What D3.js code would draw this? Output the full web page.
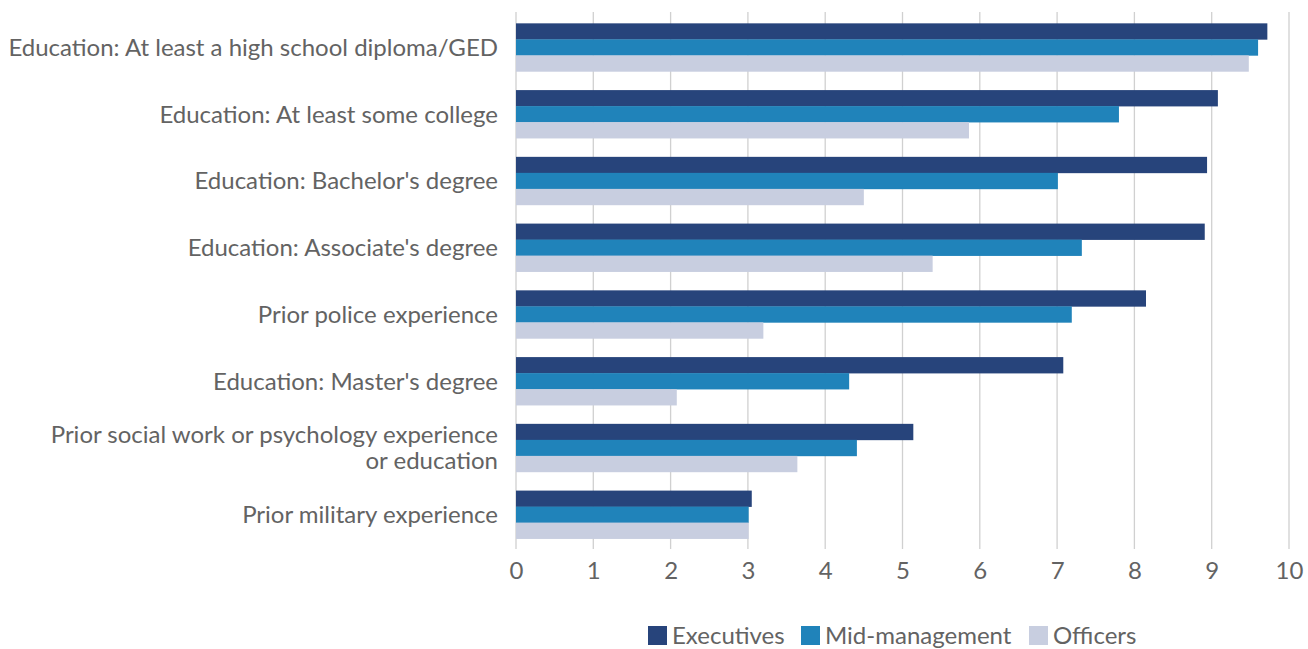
<!DOCTYPE html>
<html>
<head>
<meta charset="utf-8">
<script src="https://cdn.jsdelivr.net/npm/d3@7"></script>
<style>
  body { margin: 0; background: #fff; }
  text { font-family: Lato, "Open Sans", sans-serif; fill: #636363; }
</style>
</head>
<body>
<script>
// categories, top to bottom
var categories = [
  "Education: At least a high school diploma/GED",
  "Education: At least some college",
  "Education: Bachelor's degree",
  "Education: Associate's degree",
  "Prior police experience",
  "Education: Master's degree",
  "Prior social work or psychology experience|or education",
  "Prior military experience"
];
var seriesNames = ["Executives", "Mid-management", "Officers"];
var executives = [9.72, 9.08, 8.94, 8.91, 8.15, 7.08, 5.14, 3.05];
var midManagement = [9.60, 7.80, 7.01, 7.32, 7.19, 4.31, 4.41, 3.01];
var officers = [9.48, 5.86, 4.50, 5.39, 3.20, 2.08, 3.64, 3.01];
var tickValues = [0, 1, 2, 3, 4, 5, 6, 7, 8, 9, 10];
var colors = ["#27447b", "#2083ba", "#c8cee0"];

var width = 1308, height = 649;
var margin = {top: 14, right: 19, bottom: 101, left: 516};

var svg = d3.select("body").append("svg")
  .attr("width", width)
  .attr("height", height);

var x = d3.scaleLinear().domain([0, 10]).range([margin.left, width - margin.right]);
var y = d3.scaleBand().domain(d3.range(categories.length))
  .range([margin.top, height - margin.bottom])
  .paddingInner(0.28).paddingOuter(0.14);
var ySub = d3.scaleBand().domain(d3.range(3)).range([0, y.bandwidth()]);

// gridlines
svg.append("g").selectAll("line")
  .data(tickValues)
  .enter().append("line")
  .attr("x1", function(d) { return x(d); })
  .attr("x2", function(d) { return x(d); })
  .attr("y1", 12)
  .attr("y2", height - margin.bottom + 1)
  .attr("stroke", "#d0d0d0")
  .attr("stroke-width", 1.3);

// bars
var rows = categories.map(function(c, i) {
  return [executives[i], midManagement[i], officers[i]];
});
var groups = svg.append("g").selectAll("g")
  .data(rows)
  .enter().append("g")
  .attr("transform", function(d, i) { return "translate(0," + y(i) + ")"; });
groups.selectAll("rect")
  .data(function(d) { return d; })
  .enter().append("rect")
  .attr("x", x(0))
  .attr("y", function(d, j) { return ySub(j); })
  .attr("width", function(d) { return x(d) - x(0); })
  .attr("height", ySub.bandwidth() + 0.3)
  .attr("fill", function(d, j) { return colors[j]; });

// x axis labels
var xAxis = svg.append("g")
  .attr("transform", "translate(0," + (height - margin.bottom) + ")")
  .call(d3.axisBottom(x).tickValues(tickValues).tickSize(0).tickPadding(14).tickFormat(d3.format("d")));
xAxis.select(".domain").remove();
xAxis.selectAll("text").style("font-size", "24px").attr("fill", "#636363");

// category labels
var labels = svg.append("g").selectAll("text")
  .data(categories)
  .enter().append("text")
  .attr("text-anchor", "end")
  .attr("x", margin.left - 18)
  .attr("y", function(d, i) { return y(i) + y.bandwidth() / 2; })
  .style("font-size", "24px");
labels.each(function(d) {
  var parts = d.split("|");
  var t = d3.select(this);
  parts.forEach(function(p, k) {
    t.append("tspan")
      .attr("x", margin.left - 18)
      .attr("dy", k === 0 ? ((0.35 - (parts.length - 1) * 0.55) + "em") : "1.1em")
      .text(p);
  });
});

// legend (kept just inside the bottom edge)
var legendX = [648, 801, 1029];
var legend = svg.append("g").selectAll("g")
  .data(seriesNames)
  .enter().append("g")
  .attr("transform", function(d, i) { return "translate(" + legendX[i] + ",626)"; });
legend.append("rect")
  .attr("width", 19).attr("height", 19)
  .attr("fill", function(d, i) { return colors[i]; });
legend.append("text")
  .attr("x", 24).attr("y", 10).attr("dy", "0.34em")
  .style("font-size", "24px")
  .text(function(d) { return d; });
</script>
</body>
</html>
